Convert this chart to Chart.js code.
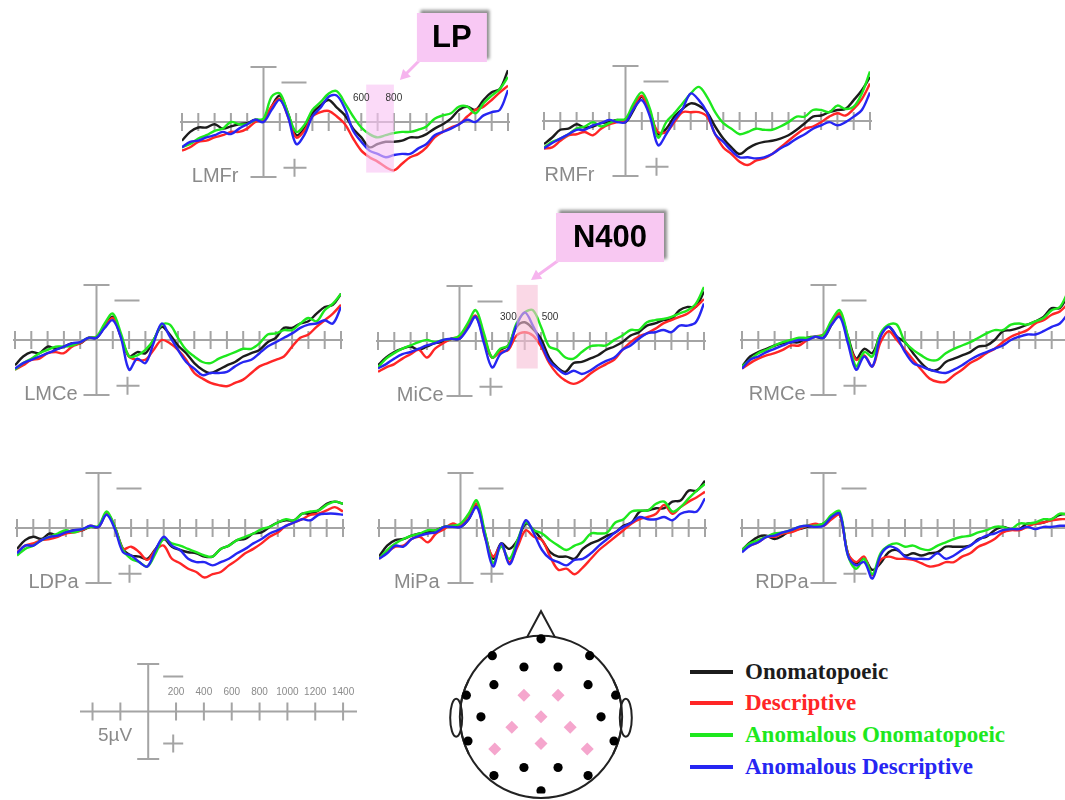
<!DOCTYPE html>
<html lang="en">
<head>
<meta charset="UTF-8">
<title>ERP waveforms</title>
<script src="https://cdn.jsdelivr.net/npm/chart.js@4.4.0/dist/chart.umd.min.js"></script>
<style>
  html, body { margin: 0; padding: 0; background: #fff; }
  body { width: 1065px; height: 800px; position: relative; overflow: hidden; }
  canvas { position: absolute; }
  .leg { position: absolute; left: 690px; height: 24px; font-family: "Liberation Serif", "DejaVu Serif", serif; font-weight: bold; font-size: 23px; line-height: 24px; white-space: nowrap; }
  .leg i { display: inline-block; width: 43px; height: 4px; vertical-align: middle; margin-right: 12px; position: relative; top: -2px; }
</style>
</head>
<body>
<script>
// time (ms) of each sample, tick marks of the panels and of the scale bar
const times = [-500,-450,-400,-350,-300,-250,-200,-150,-100,-50,0,50,100,150,200,250,300,350,400,450,500,550,600,650,700,750,800,850,900,950,1000,1050,1100,1150,1200,1250,1300,1350,1400,1450,1500];
const timeTicks = [-500,-400,-300,-200,-100,0,100,200,300,400,500,600,700,800,900,1000,1100,1200,1300,1400,1500];
const scaleTicks = [-400,-200,200,400,600,800,1000,1200,1400];
const scaleLabels = [200,400,600,800,1000,1200,1400];

const conditions = ['Onomatopoeic', 'Descriptive', 'Anomalous Onomatopoeic', 'Anomalous Descriptive'];
const condColors = ['#1c1c1c', '#ff2626', '#1ee81e', '#2626f2'];

// amplitudes in µV (negative plotted up)
const lmfrOno   = [1.7,0.9,0.5,0.5,0.2,0.6,0.4,0.2,0.1,-0.2, -0.1,-1.4,-2.4,-0.8,1.2,0.6,-0.8,-1.5,-2.0,-1.3, -0.6,0.6,1.4,2.3,2.0,1.8,1.8,1.7,1.4,1.4, 1.1,0.6,0.2,-0.3,-1.1,-1.4,-1.1,-2.0,-2.7,-3.0, -4.7];
const lmfrDes   = [2.6,2.3,1.8,1.7,1.4,1.2,0.9,0.9,0.6,0.0, -0.2,-1.4,-2.1,-0.5,1.4,0.8,-0.5,-0.9,-1.0,-0.5, 0.2,1.5,2.6,3.2,3.6,4.1,4.4,3.8,3.2,2.9, 2.3,1.4,0.9,0.5,0.2,-0.5,-1.1,-1.4,-2.0,-2.7, -3.3];
const lmfrAnOno = [2.3,2.0,1.5,1.2,0.8,0.6,0.0,0.2,0.2,-0.2, -0.3,-2.3,-2.6,-0.8,0.9,0.3,-1.1,-1.8,-2.6,-2.8, -1.7,-0.5,0.5,1.1,1.4,1.2,1.0,0.9,0.9,0.7, 0.4,-0.3,-0.6,-0.8,-1.4,-1.4,-0.8,-1.7,-2.4,-3.0, -4.1];
const lmfrAnDes = [2.3,1.8,1.7,1.4,1.2,0.9,1.1,0.6,0.2,-0.2, 0.0,-1.1,-2.0,-0.5,2.0,1.2,-0.5,-1.3,-2.3,-2.4, -1.2,0.8,1.8,2.6,2.9,3.2,3.0,2.9,2.9,2.4, 2.0,1.2,0.9,0.6,0.2,-0.2,0.0,-0.6,-0.9,-1.1, -2.9];

const rmfrOno   = [2.1,1.5,0.8,0.7,0.3,0.6,0.5,0.2,0.1,-0.1, 0.1,-1.0,-2.2,-0.8,1.2,0.7,-0.4,-1.1,-1.6,-1.4, -0.8,0.5,1.6,2.4,3.0,2.5,2.1,1.9,1.8,1.6, 1.3,0.8,0.2,-0.4,-0.5,-0.8,-1.0,-1.1,-1.9,-2.8, -4.0];
const rmfrDes   = [2.5,2.4,1.8,1.3,1.2,1.0,1.3,0.7,0.3,0.1, -0.1,-1.3,-2.3,-0.7,1.0,1.0,0.1,-0.8,-0.8,-0.8, -0.4,1.2,2.4,3.0,3.7,4.0,3.6,3.4,3.0,2.4, 1.8,1.2,0.7,0.5,0.1,-0.4,-0.7,-0.5,-1.1,-2.0, -3.4];
const rmfrAnOno = [2.4,1.9,1.6,1.2,0.7,0.5,0.1,0.5,0.2,-0.1, -0.2,-1.6,-2.6,-1.1,1.5,0.1,-0.7,-1.6,-2.5,-3.1, -2.2,-0.8,0.2,0.7,1.2,1.0,0.7,0.8,0.8,0.5, 0.1,-0.4,-0.4,-1.0,-1.0,-0.8,-1.4,-1.1,-1.3,-2.5, -4.5];
const rmfrAnDes = [2.5,2.0,1.6,1.2,0.8,0.8,0.4,0.2,-0.1,0.1, 0.1,-1.1,-1.9,-0.4,2.2,1.2,-0.1,-1.1,-2.5,-1.9, -0.8,1.2,1.9,2.7,3.3,3.3,3.4,3.3,3.0,2.5, 2.1,1.6,1.2,0.7,0.4,0.1,0.4,0.1,-0.4,-1.0, -2.6];

const lmceOno   = [2.3,1.5,1.1,1.2,0.6,0.8,0.6,0.3,0.3,-0.2, -0.2,-1.2,-2.1,-0.3,1.5,1.1,1.2,0.0,-1.2,-0.5, 0.5,1.2,2.1,2.7,3.0,2.7,2.3,2.0,1.5,1.2, 0.9,0.2,-0.2,-1.1,-1.1,-1.5,-1.7,-2.4,-3.0,-3.2, -4.2];
const lmceDes   = [2.7,2.3,1.8,1.7,1.2,1.1,1.2,0.6,0.3,-0.2, -0.3,-1.2,-2.0,-0.3,1.5,1.8,1.8,0.9,0.0,0.3, 0.9,1.8,3.0,3.5,3.9,4.1,4.2,3.9,3.6,3.0, 2.4,2.1,1.8,1.5,0.6,-0.2,-0.5,-1.2,-1.8,-2.4, -3.2];
const lmceAnOno = [2.7,2.1,1.7,1.2,0.9,0.6,0.6,0.5,0.2,-0.2, -0.3,-1.5,-2.4,-0.6,1.5,1.4,0.9,0.0,-1.4,-1.4, -0.2,0.9,1.5,2.0,2.1,1.7,1.4,1.1,0.8,0.8, 0.3,-0.5,-0.6,-0.9,-0.9,-1.5,-2.0,-1.7,-2.7,-3.3, -4.2];
const lmceAnDes = [2.6,2.1,1.8,1.5,1.2,0.9,0.6,0.3,0.2,-0.2, -0.2,-1.1,-1.8,-0.2,2.7,1.7,2.1,0.3,-1.5,-0.3, 0.9,2.0,2.6,3.2,3.0,3.0,2.9,2.4,2.0,1.8, 1.2,0.6,0.2,-0.2,-0.6,-1.1,-1.4,-1.5,-1.8,-1.5, -3.0];

const miceOno   = [2.2,1.5,1.0,0.7,0.5,0.8,0.5,0.2,0.1,-0.2, -0.2,-1.3,-2.2,-0.2,1.5,0.8,0.4,-1.3,-1.7,-1.1, -0.2,1.5,2.4,2.8,2.0,1.9,1.6,1.3,0.8,0.5, 0.1,-0.5,-0.8,-1.4,-1.6,-1.9,-2.0,-2.8,-3.1,-3.1, -4.5];
const miceDes   = [2.8,2.4,2.1,1.6,1.2,0.8,1.5,0.7,0.2,-0.2, -0.4,-1.4,-2.3,-0.4,1.5,1.0,0.8,-0.5,-0.8,-0.5, 0.5,2.0,3.0,3.6,3.9,3.6,3.0,2.5,2.1,1.7, 0.8,0.1,-0.4,-0.7,-1.1,-1.6,-1.9,-2.2,-2.5,-3.1, -3.8];
const miceAnOno = [2.4,1.6,1.1,0.7,0.4,0.1,-0.1,0.1,-0.1,-0.2, -0.5,-1.6,-2.8,-0.7,1.5,0.7,0.4,-1.6,-2.6,-2.8, -1.3,0.5,0.8,1.5,1.6,1.0,0.5,0.4,0.4,-0.1, -0.5,-1.0,-1.0,-1.7,-1.9,-2.0,-2.2,-2.5,-2.8,-3.4, -4.9];
const miceAnDes = [2.5,2.1,1.6,1.2,1.0,0.7,0.4,0.2,-0.1,-0.2, -0.2,-1.1,-2.2,0.2,2.4,1.2,0.7,-1.4,-2.6,-1.4, 0.2,1.8,2.5,3.0,2.7,3.0,2.7,2.2,1.8,1.5, 0.8,0.4,-0.2,-0.7,-0.8,-1.0,-0.8,-1.4,-1.4,-1.7, -3.4];

const rmceOno   = [2.4,1.5,1.1,0.8,0.5,0.3,0.2,0.2,-0.2,-0.3, -0.2,-1.4,-2.4,-0.3,1.7,0.8,1.2,-0.5,-1.2,-0.3, 0.2,1.2,2.1,2.7,2.7,2.0,1.7,1.4,1.1,0.6, 0.5,0.0,-0.8,-0.9,-1.1,-1.4,-1.7,-2.1,-2.9,-2.9, -4.1];
const rmceDes   = [2.6,2.1,1.7,1.4,1.2,0.9,0.5,0.5,0.0,-0.3, -0.5,-1.5,-2.4,0.0,1.8,1.4,2.4,0.2,-0.8,0.0, 0.9,1.8,2.7,3.5,3.8,3.8,3.2,2.7,2.1,1.7, 1.2,0.8,0.2,-0.3,-0.6,-0.9,-1.5,-1.8,-2.3,-2.6, -3.3];
const rmceAnOno = [2.4,1.8,1.2,0.9,0.5,0.2,0.0,-0.2,-0.2,-0.3, -0.5,-1.8,-2.7,-0.3,2.4,1.1,1.5,-0.6,-1.4,-1.4, 0.2,0.9,1.4,1.8,1.8,1.2,0.8,0.5,0.2,-0.2, -0.6,-0.9,-0.9,-1.4,-1.5,-1.4,-1.7,-2.0,-2.7,-3.0, -4.4];
const rmceAnDes = [2.6,1.8,1.5,1.1,0.8,0.5,0.2,0.0,0.0,-0.3, -0.2,-1.4,-2.1,0.3,2.7,1.5,2.4,-0.3,-1.2,-0.3, 1.1,2.1,2.4,2.7,2.9,3.0,2.7,2.3,1.8,1.4, 1.1,0.8,0.5,0.0,-0.3,-0.5,-0.5,-0.8,-1.2,-1.5, -2.4];

const ldpaOno   = [1.9,1.1,0.8,1.0,0.5,0.7,0.4,0.2,0.2,-0.1, -0.1,-1.3,-0.1,1.9,2.5,2.6,2.8,1.9,1.0,1.7, 2.0,2.2,2.3,2.6,2.6,1.9,1.6,1.1,1.0,0.5, 0.4,-0.1,-0.5,-0.7,-0.7,-1.3,-1.3,-1.6,-2.2,-2.4, -2.2];
const ldpaDes   = [2.2,1.6,1.4,1.1,1.0,0.8,0.5,0.4,0.2,-0.2, -0.1,-1.4,-0.1,1.9,1.7,2.2,2.9,2.0,1.6,2.8, 3.2,3.7,4.0,4.5,4.2,4.0,3.4,2.9,2.3,1.9, 1.4,0.8,0.4,-0.2,-0.5,-0.8,-1.2,-1.3,-1.6,-1.9, -1.5];
const ldpaAnOno = [2.5,1.9,1.6,1.1,0.8,0.5,0.2,0.4,0.1,-0.1, -0.2,-1.5,-0.1,2.0,2.8,3.1,3.5,2.3,1.0,1.4, 1.6,1.9,2.2,2.5,2.6,1.9,1.6,1.1,0.8,0.5, 0.1,-0.1,-0.5,-0.8,-0.7,-1.3,-1.5,-1.6,-2.1,-2.4, -2.2];
const ldpaAnDes = [2.3,1.6,1.6,1.1,0.8,0.7,0.4,0.2,0.1,-0.2, -0.1,-1.2,0.1,2.2,2.5,3.1,3.5,2.0,0.8,1.6, 2.0,2.8,3.1,3.1,3.4,3.1,2.8,2.3,1.9,1.4, 1.0,0.5,0.2,-0.2,-0.5,-0.8,-0.7,-1.2,-1.3,-1.3, -1.2];

const mipaOno   = [2.6,1.6,1.1,1.0,0.7,0.5,0.4,0.2,-0.1,-0.2, -0.1,-0.8,-2.1,0.5,2.8,1.4,1.9,1.1,-0.4,0.2, 1.1,2.2,2.6,2.6,2.8,1.9,1.4,1.1,0.7,0.4, -0.2,-0.5,-1.5,-1.6,-1.8,-1.8,-2.4,-2.5,-3.4,-3.4, -4.3];
const mipaDes   = [2.8,2.2,1.7,1.6,1.0,0.8,1.3,0.5,0.1,-0.4, -0.2,-1.2,-2.2,0.8,2.6,1.6,3.1,1.7,0.2,0.8, 1.1,2.6,3.8,3.7,4.2,3.6,2.8,2.0,1.4,0.8, 0.2,-0.4,-0.8,-1.0,-1.3,-2.1,-1.3,-1.9,-2.4,-2.8, -3.3];
const mipaAnOno = [2.8,2.0,1.4,1.0,0.7,0.5,0.2,0.2,-0.1,-0.2, -0.4,-1.3,-2.5,0.4,3.2,1.7,2.8,1.1,-0.5,0.2, 0.5,1.1,1.6,2.0,1.6,1.3,0.5,0.5,0.4,-0.5, -0.8,-1.5,-1.6,-1.6,-2.2,-2.4,-1.5,-1.9,-2.7,-3.4, -4.0];
const mipaAnDes = [2.8,2.3,1.6,1.7,1.0,0.7,0.5,0.4,-0.1,-0.1, -0.1,-0.8,-1.9,0.8,3.5,1.4,3.3,1.4,-0.7,0.5, 2.0,2.8,3.1,3.4,2.9,2.8,2.3,1.6,1.0,0.4, -0.1,-0.5,-1.0,-0.8,-0.8,-1.0,-0.7,-1.3,-1.5,-1.5, -2.7];

const rdpaOno   = [2.0,1.3,0.8,0.7,1.0,0.7,0.2,0.1,-0.1,-0.2, -0.4,-1.0,-1.2,2.3,3.2,2.8,3.8,3.2,2.2,2.0, 2.5,2.3,2.5,2.3,2.2,1.7,1.7,1.7,1.6,1.0, 0.8,0.2,-0.1,0.1,0.1,-0.4,-0.4,-0.5,-0.8,-1.2, -1.3];
const rdpaDes   = [2.0,1.6,1.3,0.8,0.8,0.5,0.4,0.1,-0.2,-0.4, -0.2,-0.8,-1.2,2.3,3.1,2.6,4.3,2.9,2.6,2.8, 2.8,2.9,3.2,3.5,3.4,3.1,3.1,2.6,2.3,1.7, 1.4,1.0,0.4,0.2,0.2,-0.1,-0.4,-0.5,-0.7,-0.8, -0.8];
const rdpaAnOno = [2.0,1.4,1.1,0.8,0.5,0.4,0.2,-0.1,-0.2,-0.2, -0.4,-1.2,-1.5,2.5,3.7,2.8,4.2,2.3,1.6,1.4, 1.7,1.6,1.9,2.0,1.6,1.3,1.0,0.8,0.7,0.4, 0.2,-0.1,-0.1,0.1,-0.4,-0.4,-0.5,-0.8,-0.8,-1.3, -1.2];
const rdpaAnDes = [2.2,1.6,1.3,0.8,0.7,0.4,0.2,-0.1,-0.2,-0.1, -0.2,-1.0,-1.3,2.5,3.4,3.1,4.6,2.5,1.7,1.9, 2.6,2.8,2.8,2.8,2.3,2.8,2.5,2.0,1.6,1.1, 0.7,0.5,0.2,0.1,0.1,-0.1,0.1,-0.1,-0.1,-0.2, -0.2];

// electrode map (head radius = 1, nose up)
const electrodeX = [0,-0.6,0.6,-0.21,0.21,-0.58,0.58,-0.92,0.92,-0.74,0.74,-0.9,0.9,-0.21,0.21,-0.58,0.58,0];
const electrodeY = [0.97,0.76,0.76,0.62,0.62,0.4,0.4,0.27,0.27,0,0,-0.3,-0.3,-0.63,-0.63,-0.73,-0.73,-0.92];
const siteX = [-0.21,0.21,0,-0.36,0.36,-0.57,0,0.57];
const siteY = [0.27,0.27,0,-0.13,-0.13,-0.4,-0.33,-0.4];

// analysis windows (ms) marked on two panels
const lpWindow = [630, 800];
const n400Window = [350, 480];

const AXIS = '#a4a4a4';
const BAR = 5;   // µV, half length of the vertical bar
Chart.defaults.font.family = 'Arial, "Liberation Sans", sans-serif';

const lpNote = { text: 'LP', from: lpWindow[0], to: lpWindow[1], top: -3.4, bottom: 4.6, marks: [600, 800], markDx: [0, 0],
  fill: 'rgba(248,196,244,0.62)', box: '#f8c8f4', boxDx: 23, boxDy: -109, boxW: 70, tipDx: 6, tipDy: -42 };
const n400Note = { text: 'N400', from: n400Window[0], to: n400Window[1], top: -5.1, bottom: 2.5, marks: [300, 500], markDx: [0, 9],
  fill: 'rgba(246,190,214,0.6)', box: '#f8c8f2', boxDx: 15, boxDy: -128, boxW: 108, tipDx: -10, tipDy: -61 };

const panels = [
  { name: 'LMFr', left: 182, base: 122, gap: 25, series: [lmfrOno, lmfrDes, lmfrAnOno, lmfrAnDes], note: lpNote },
  { name: 'RMFr', left: 544, base: 121, gap: 31, series: [rmfrOno, rmfrDes, rmfrAnOno, rmfrAnDes] },
  { name: 'LMCe', left: 15, base: 340, gap: 19, series: [lmceOno, lmceDes, lmceAnOno, lmceAnDes] },
  { name: 'MiCe', left: 378, base: 341, gap: 16, series: [miceOno, miceDes, miceAnOno, miceAnDes], note: n400Note },
  { name: 'RMCe', left: 742, base: 340, gap: 18, series: [rmceOno, rmceDes, rmceAnOno, rmceAnDes] },
  { name: 'LDPa', left: 17, base: 528, gap: 20, series: [ldpaOno, ldpaDes, ldpaAnOno, ldpaAnDes] },
  { name: 'MiPa', left: 379, base: 528, gap: 21, series: [mipaOno, mipaDes, mipaAnOno, mipaAnDes] },
  { name: 'RDPa', left: 742, base: 528, gap: 15, series: [rdpaOno, rdpaDes, rdpaAnOno, rdpaAnDes] }
];

function addCanvas(left, top, w, h) {
  const c = document.createElement('canvas');
  c.width = w; c.height = h;
  c.style.left = left + 'px'; c.style.top = top + 'px';
  document.body.appendChild(c);
  return c;
}

function drawCross(ctx, x0, y0, ym, yp) {
  // the little "-" and "+" polarity signs beside the vertical bar
  ctx.moveTo(x0 + 18, ym); ctx.lineTo(x0 + 43, ym);
  ctx.moveTo(x0 + 20, yp); ctx.lineTo(x0 + 43, yp);
  ctx.moveTo(x0 + 31, yp - 9); ctx.lineTo(x0 + 31, yp + 9);
}

function panelPlugin(p) {
  return {
    id: 'erpAxes',
    beforeDatasetsDraw(chart) {
      const { ctx, scales: { x, y } } = chart;
      const x0 = x.getPixelForValue(0), y0 = y.getPixelForValue(0);
      const top = y.getPixelForValue(-BAR), bot = y.getPixelForValue(BAR);
      ctx.save();
      ctx.strokeStyle = AXIS;
      ctx.lineWidth = 2;
      ctx.beginPath();
      ctx.moveTo(x.getPixelForValue(timeTicks[0]) - 2, y0);
      ctx.lineTo(x.getPixelForValue(timeTicks[timeTicks.length - 1]) + 2, y0);
      timeTicks.forEach(t => {
        if (t === 0) return;
        const px = x.getPixelForValue(t);
        ctx.moveTo(px, y0 - 9); ctx.lineTo(px, y0 + 9);
      });
      ctx.moveTo(x0, top); ctx.lineTo(x0, bot);
      ctx.moveTo(x0 - 13, top); ctx.lineTo(x0 + 13, top);
      ctx.moveTo(x0 - 13, bot); ctx.lineTo(x0 + 13, bot);
      drawCross(ctx, x0, y0, y.getPixelForValue(-3.6), y.getPixelForValue(4.15));
      ctx.stroke();
      ctx.fillStyle = '#8a8a8a';
      ctx.font = '20px Arial, "Liberation Sans", sans-serif';
      ctx.textAlign = 'right';
      ctx.textBaseline = 'middle';
      ctx.fillText(p.name, x0 - p.gap, bot - 1);
      ctx.restore();
    },
    afterDatasetsDraw(chart) {
      const n = p.note;
      if (!n) return;
      const { ctx, scales: { x, y } } = chart;
      const y0 = y.getPixelForValue(0);
      const xl = x.getPixelForValue(n.from), xr = x.getPixelForValue(n.to);
      const yt = y.getPixelForValue(n.top), yb = y.getPixelForValue(n.bottom);
      ctx.save();
      ctx.fillStyle = n.fill;
      ctx.fillRect(xl, yt, xr - xl, yb - yt);
      ctx.fillStyle = '#333';
      ctx.font = '10px Arial, "Liberation Sans", sans-serif';
      ctx.textAlign = 'center';
      ctx.textBaseline = 'middle';
      n.marks.forEach((m, i) => ctx.fillText(String(m), x.getPixelForValue(m) + n.markDx[i], y0 - 24));

      const ref = x.getPixelForValue(n.marks[1]);
      const bx = ref + n.boxDx, by = y0 + n.boxDy, bh = 49;
      const tx = ref + n.tipDx, ty = y0 + n.tipDy;
      // arrow
      const sx = bx + 3, sy = by + bh - 2;
      const ang = Math.atan2(ty - sy, tx - sx);
      ctx.strokeStyle = '#f6b4ee';
      ctx.fillStyle = '#f6b4ee';
      ctx.lineWidth = 3;
      ctx.beginPath();
      ctx.moveTo(sx, sy);
      ctx.lineTo(tx - 7 * Math.cos(ang), ty - 7 * Math.sin(ang));
      ctx.stroke();
      ctx.beginPath();
      ctx.moveTo(tx, ty);
      ctx.lineTo(tx - 10 * Math.cos(ang) + 5.5 * Math.sin(ang), ty - 10 * Math.sin(ang) - 5.5 * Math.cos(ang));
      ctx.lineTo(tx - 10 * Math.cos(ang) - 5.5 * Math.sin(ang), ty - 10 * Math.sin(ang) + 5.5 * Math.cos(ang));
      ctx.closePath();
      ctx.fill();
      // call-out box
      ctx.shadowColor = 'rgba(0,0,0,0.45)';
      ctx.shadowBlur = 3;
      ctx.shadowOffsetX = 3;
      ctx.shadowOffsetY = -3;
      ctx.fillStyle = n.box;
      ctx.fillRect(bx, by, n.boxW, bh);
      ctx.shadowColor = 'transparent';
      ctx.fillStyle = '#000';
      ctx.font = 'bold 31px Arial, "Liberation Sans", sans-serif';
      ctx.fillText(n.text, bx + n.boxW / 2, by + bh / 2 + 1);
      ctx.restore();
    }
  };
}

panels.forEach(p => {
  const c = addCanvas(p.left - 8, p.base - 136, 342, 210);
  new Chart(c, {
    type: 'line',
    data: {
      datasets: p.series.map((s, i) => ({
        label: conditions[i],
        data: s.map((v, k) => ({ x: times[k], y: v })),
        borderColor: condColors[i],
        borderWidth: 2.4,
        pointRadius: 0,
        tension: 0.35,
        order: 3 - i
      }))
    },
    options: {
      responsive: false,
      animation: false,
      events: [],
      layout: { padding: { left: 8, right: 8, top: 70, bottom: 8 } },
      scales: {
        x: { type: 'linear', min: -500, max: 1500, display: false },
        y: { min: -6, max: 6, reverse: true, display: false }
      },
      plugins: { legend: { display: false }, tooltip: { enabled: false } }
    },
    plugins: [panelPlugin(p)]
  });
});

// calibration (scale bar)
const scaleCanvas = addCanvas(70, 650, 300, 120);
new Chart(scaleCanvas, {
  type: 'scatter',
  data: { datasets: [{ data: [] }] },
  options: {
    responsive: false,
    animation: false,
    events: [],
    layout: { padding: { left: 10, right: 13, top: 14, bottom: 11 } },
    scales: {
      x: { type: 'linear', min: -490, max: 1500, display: false },
      y: { min: -BAR, max: BAR, reverse: true, display: false }
    },
    plugins: { legend: { display: false }, tooltip: { enabled: false } }
  },
  plugins: [{
    id: 'scaleBar',
    afterDraw(chart) {
      const { ctx, scales: { x, y } } = chart;
      const x0 = x.getPixelForValue(0), y0 = y.getPixelForValue(0);
      const top = y.getPixelForValue(-BAR), bot = y.getPixelForValue(BAR);
      ctx.save();
      ctx.strokeStyle = AXIS;
      ctx.lineWidth = 2;
      ctx.beginPath();
      ctx.moveTo(x.getPixelForValue(-490), y0); ctx.lineTo(x.getPixelForValue(1500), y0);
      scaleTicks.forEach(t => {
        const px = x.getPixelForValue(t);
        ctx.moveTo(px, y0 - 9); ctx.lineTo(px, y0 + 9);
      });
      ctx.moveTo(x0, top); ctx.lineTo(x0, bot);
      ctx.moveTo(x0 - 11, top); ctx.lineTo(x0 + 11, top);
      ctx.moveTo(x0 - 11, bot); ctx.lineTo(x0 + 11, bot);
      ctx.moveTo(x0 + 15, y0 - 35); ctx.lineTo(x0 + 35, y0 - 35);
      ctx.moveTo(x0 + 15, y0 + 32); ctx.lineTo(x0 + 35, y0 + 32);
      ctx.moveTo(x0 + 25, y0 + 23); ctx.lineTo(x0 + 25, y0 + 41);
      ctx.stroke();
      ctx.fillStyle = '#8a8a8a';
      ctx.font = '10px Arial, "Liberation Sans", sans-serif';
      ctx.textAlign = 'center';
      ctx.textBaseline = 'middle';
      scaleLabels.forEach(t => ctx.fillText(String(t), x.getPixelForValue(t), y0 - 19));
      ctx.font = '19px Arial, "Liberation Sans", sans-serif';
      ctx.textAlign = 'right';
      ctx.fillText('5µV', x0 - 16, y0 + 24);
      ctx.restore();
    }
  }]
});

// electrode montage
const headCanvas = addCanvas(426, 600, 230, 200);
new Chart(headCanvas, {
  type: 'scatter',
  data: {
    datasets: [
      { data: siteX.map((v, i) => ({ x: v, y: siteY[i] })), pointStyle: 'rectRot', pointRadius: 6.5,
        backgroundColor: '#f5a6cd', borderColor: '#f5a6cd', borderWidth: 0 },
      { data: electrodeX.map((v, i) => ({ x: v, y: electrodeY[i] })), pointStyle: 'circle', pointRadius: 4.6,
        backgroundColor: '#000', borderColor: '#000', borderWidth: 0 }
    ]
  },
  options: {
    responsive: false,
    animation: false,
    events: [],
    layout: { padding: 0 },
    scales: {
      x: { type: 'linear', min: -1.337, max: 1.337, display: false },
      y: { type: 'linear', min: -0.953, max: 1.372, display: false }
    },
    plugins: { legend: { display: false }, tooltip: { enabled: false } }
  },
  plugins: [{
    id: 'head',
    beforeDatasetsDraw(chart) {
      const { ctx, scales: { x, y } } = chart;
      const cx = x.getPixelForValue(0), cy = y.getPixelForValue(0);
      const r = x.getPixelForValue(1) - cx;
      ctx.save();
      ctx.strokeStyle = '#222';
      ctx.lineWidth = 2;
      ctx.beginPath();
      ctx.arc(cx, cy, r, 0, Math.PI * 2);
      ctx.stroke();
      ctx.beginPath();
      ctx.moveTo(x.getPixelForValue(-0.175), y.getPixelForValue(0.985));
      ctx.lineTo(cx, y.getPixelForValue(1.314));
      ctx.lineTo(x.getPixelForValue(0.175), y.getPixelForValue(0.985));
      ctx.stroke();
      [-1, 1].forEach(side => {
        ctx.beginPath();
        ctx.ellipse(x.getPixelForValue(side * 1.045), y.getPixelForValue(-0.01), 6, 19, 0, 0, Math.PI * 2);
        ctx.fillStyle = '#fff';
        ctx.fill();
        ctx.stroke();
      });
      ctx.beginPath();
      ctx.arc(cx, cy, r, Math.PI * 0.85, Math.PI * 1.15);
      ctx.stroke();
      ctx.beginPath();
      ctx.arc(cx, cy, r, -Math.PI * 0.15, Math.PI * 0.15);
      ctx.stroke();
      ctx.restore();
    }
  }]
});

// legend
const legendTop = [672, 703, 735, 767];
conditions.forEach((name, i) => {
  const d = document.createElement('div');
  d.className = 'leg';
  d.style.top = (legendTop[i] - 12) + 'px';
  d.style.color = condColors[i];
  d.innerHTML = '<i style="background:' + condColors[i] + '"></i>' + name;
  document.body.appendChild(d);
});
</script>
</body>
</html>
